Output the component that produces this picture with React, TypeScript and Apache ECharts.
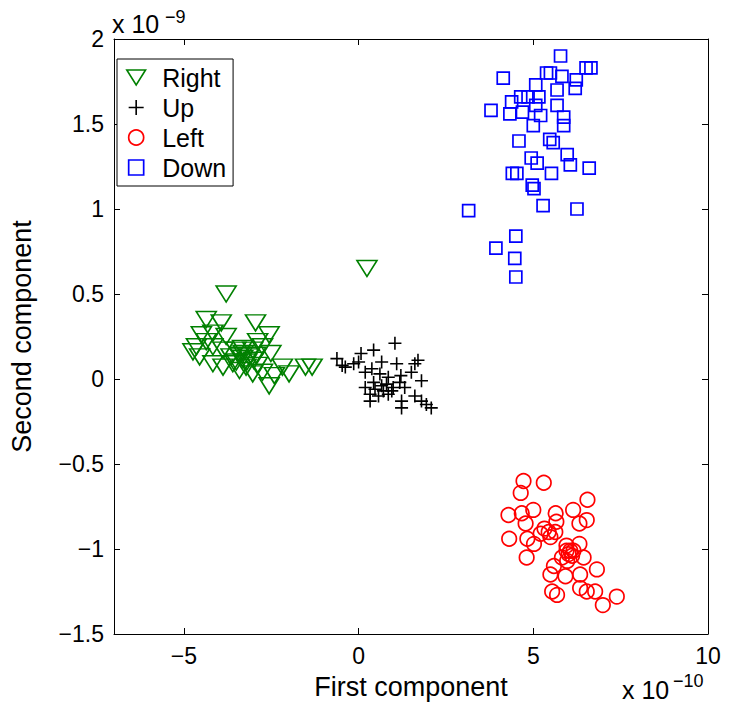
import React, { useEffect, useRef } from "react";
import * as echarts from "echarts";

// Values: x in units of 1e-10, y in units of 1e-9
const rightPts: number[][] = [
  [-3.79, 0.5], [-4.36, 0.35], [-3.93, 0.33], [-2.95, 0.33], [-4.5, 0.26], [-4.17, 0.27],
  [-3.79, 0.25], [-2.56, 0.26], [-2.89, 0.22], [-4.36, 0.22], [-4.55, 0.13], [-4.17, 0.19],
  [-3.88, 0.17], [-3.51, 0.17], [-3.32, 0.18], [-3.03, 0.17], [-2.75, 0.19], [-2.51, 0.15],
  [-3.65, 0.13], [-3.32, 0.12], [-3.13, 0.13], [-2.94, 0.14], [-4.17, 0.09], [-3.88, 0.07],
  [-3.6, 0.09], [-3.41, 0.05], [-3.22, 0.07], [-3.03, 0.03], [-2.75, 0.04], [-2.56, -0.04],
  [-2.41, 0.02], [-2.18, 0.07], [-1.99, 0.03], [-1.52, 0.07], [-1.33, 0.07], [-4.74, 0.16],
  [-4.64, 0.19], [0.24, 0.65], [-3.4, 0.14], [-3.2, 0.1], [-3.0, 0.11], [-3.5, 0.1],
  [-2.9, 0.08], [-3.3, 0.15],
];
const upPts: number[][] = [
  [1.04, 0.21], [0.43, 0.17], [0.07, 0.15], [-0.62, 0.12], [-0.47, 0.08], [-0.38, 0.07],
  [-0.14, 0.09], [0.0, 0.1], [0.66, 0.1], [1.09, 0.09], [1.61, 0.09], [1.7, 0.11],
  [0.19, 0.04], [0.38, 0.06], [0.61, 0.03], [0.85, 0.01], [1.21, 0.02], [1.51, 0.04],
  [1.8, -0.01], [0.43, -0.02], [0.66, -0.04], [0.8, -0.03], [0.99, -0.05], [1.18, -0.02],
  [0.19, -0.05], [0.47, -0.06], [0.71, -0.07], [0.95, -0.07], [1.32, -0.05], [0.33, -0.09],
  [0.85, -0.09], [0.57, -0.1], [0.33, -0.13], [1.23, -0.13], [1.61, -0.1], [1.8, -0.13],
  [1.94, -0.15], [2.08, -0.17], [1.23, -0.17],
];
const leftPts: number[][] = [
  [4.72, -0.6], [5.3, -0.61], [4.64, -0.67], [6.55, -0.71], [4.29, -0.8], [4.67, -0.79],
  [5.0, -0.77], [5.64, -0.79], [6.14, -0.77], [4.78, -0.85], [6.53, -0.83], [6.32, -0.85],
  [5.66, -0.84], [5.32, -0.88], [5.44, -0.9], [5.63, -0.9], [5.21, -0.91], [4.31, -0.94],
  [4.83, -0.94], [5.02, -0.97], [5.49, -0.93], [5.95, -0.98], [6.32, -0.97], [5.95, -1.01],
  [6.06, -1.01], [6.15, -1.01], [6.01, -1.03], [6.11, -1.04], [5.82, -1.05], [6.44, -1.05],
  [4.81, -1.05], [5.59, -1.1], [5.97, -1.07], [6.82, -1.12], [5.49, -1.15], [5.92, -1.16],
  [6.34, -1.15], [6.34, -1.23], [6.53, -1.25], [6.77, -1.25], [5.54, -1.25], [5.68, -1.27],
  [6.99, -1.33], [7.39, -1.28],
];
const downPts: number[][] = [
  [5.78, 1.9], [4.14, 1.77], [6.51, 1.83], [6.65, 1.83], [5.38, 1.8], [5.49, 1.8],
  [5.82, 1.78], [6.23, 1.76], [6.2, 1.71], [5.07, 1.73], [5.68, 1.7], [4.64, 1.66],
  [4.85, 1.66], [5.16, 1.66], [4.38, 1.63], [5.07, 1.61], [5.68, 1.61], [3.79, 1.58],
  [4.33, 1.56], [4.69, 1.57], [5.21, 1.55], [5.87, 1.54], [5.87, 1.49], [5.0, 1.49],
  [4.59, 1.4], [5.47, 1.41], [5.57, 1.39], [5.97, 1.32], [4.94, 1.3], [5.11, 1.27],
  [6.06, 1.26], [6.6, 1.24], [4.4, 1.21], [4.53, 1.21], [5.52, 1.21], [4.97, 1.14],
  [5.02, 1.12], [5.28, 1.02], [6.25, 1.0], [3.15, 0.99], [4.5, 0.84], [3.93, 0.77],
  [4.47, 0.71], [4.5, 0.6],
];

const seriesNames = ["Right", "Up", "Left", "Down"];
const xTicks = [-5, 0, 5, 10];
const xMin = -7;
const xMax = 10;
const yMin = -1.5;
const yMax = 2;
const yStep = 0.5;

const FONT = "'Liberation Sans', Arial, Helvetica, sans-serif";
const TRI = "path://M0,0 L20,0 L10,16 Z";
const PLUS = "path://M0,8 L16,8 M8,0 L8,16";
const SQUARE = "path://M0,0 L10,0 L10,10 L0,10 Z";

const fmt = (v: number) => (v < 0 ? "\u2212" + String(Math.abs(v)) : String(v));

export default function App() {
  const ref = useRef<HTMLDivElement>(null);
  useEffect(() => {
    document.body.style.margin = "0";
    if (!ref.current) return;
    const chart = echarts.init(ref.current, null, { renderer: "svg" });
    const tickStyle = { show: true, inside: true, length: 6, lineStyle: { color: "#000", width: 1 } };
    const lineStyle = { show: true, onZero: false, lineStyle: { color: "#000", width: 1 } };
    const styles = [
      { symbol: TRI, size: [20, 16], color: "#008000", bw: 1.6, legendIcon: TRI },
      { symbol: PLUS, size: 13, color: "#000000", bw: 1.6, legendIcon: PLUS },
      { symbol: "circle", size: 14.5, color: "#ff0000", bw: 1.7, legendIcon: "circle" },
      { symbol: "rect", size: 12, color: "#0000ff", bw: 1.7, legendIcon: SQUARE },
    ];
    const datasets = [rightPts, upPts, leftPts, downPts];
    chart.setOption({
      animation: false,
      backgroundColor: "#fff",
      textStyle: { fontFamily: FONT },
      grid: { left: 110, right: 21, top: 39, bottom: 78 },
      xAxis: [
        {
          type: "value", min: xMin, max: xMax, position: "bottom",
          axisLine: lineStyle,
          axisTick: { ...tickStyle, customValues: xTicks },
          axisLabel: { customValues: xTicks, formatter: fmt, color: "#000", fontSize: 23, fontFamily: FONT, margin: 10 },
          splitLine: { show: false },
          name: "First component", nameLocation: "middle", nameGap: 39,
          nameTextStyle: { color: "#000", fontSize: 27, fontFamily: FONT },
        },
        {
          type: "value", min: xMin, max: xMax, position: "top",
          axisLine: lineStyle,
          axisTick: { ...tickStyle, customValues: xTicks },
          axisLabel: { show: false },
          splitLine: { show: false },
        },
      ],
      yAxis: [
        {
          type: "value", min: yMin, max: yMax, interval: yStep, position: "left",
          axisLine: lineStyle,
          axisTick: tickStyle,
          axisLabel: { formatter: fmt, color: "#000", fontSize: 23, fontFamily: FONT, margin: 10 },
          splitLine: { show: false },
          name: "Second component", nameLocation: "middle", nameGap: 79,
          nameTextStyle: { color: "#000", fontSize: 27, fontFamily: FONT },
        },
        {
          type: "value", min: yMin, max: yMax, interval: yStep, position: "right",
          axisLine: lineStyle,
          axisTick: tickStyle,
          axisLabel: { show: false },
          splitLine: { show: false },
        },
      ],
      legend: {
        orient: "vertical",
        left: 117,
        top: 59,
        padding: [6, 7, 6, 9],
        itemWidth: 32,
        itemHeight: 15,
        itemGap: 5,
        borderColor: "#000",
        borderWidth: 1,
        backgroundColor: "#fff",
        selectedMode: false,
        textStyle: { color: "#000", fontSize: 25, fontFamily: FONT, padding: [0, 0, 0, 5] },
        data: seriesNames.map((n, i) => ({
          name: n,
          icon: styles[i].legendIcon,
          itemStyle: { color: "rgba(0,0,0,0)", borderColor: styles[i].color, borderWidth: styles[i].bw },
        })),
      },
      series: datasets.map((d, i) => ({
        name: seriesNames[i],
        type: "scatter",
        xAxisIndex: 0,
        yAxisIndex: 0,
        data: d,
        symbol: styles[i].symbol,
        symbolSize: styles[i].size,
        itemStyle: { color: "rgba(0,0,0,0)", borderColor: styles[i].color, borderWidth: styles[i].bw, opacity: 1 },
        emphasis: { disabled: true },
      })),
      graphic: [
        { type: "text", left: 112, top: 11, style: { text: "x 10", fontSize: 25, fontFamily: FONT, fill: "#000" } },
        { type: "text", left: 165, top: 8, style: { text: "\u22129", fontSize: 18, fontFamily: FONT, fill: "#000" } },
        { type: "text", left: 622, top: 677, style: { text: "x 10", fontSize: 25, fontFamily: FONT, fill: "#000" } },
        { type: "text", left: 673, top: 672, style: { text: "\u221210", fontSize: 18, fontFamily: FONT, fill: "#000" } },
      ],
    });
    return () => chart.dispose();
  }, []);
  return <div ref={ref} style={{ width: 729, height: 712 }} />;
}
